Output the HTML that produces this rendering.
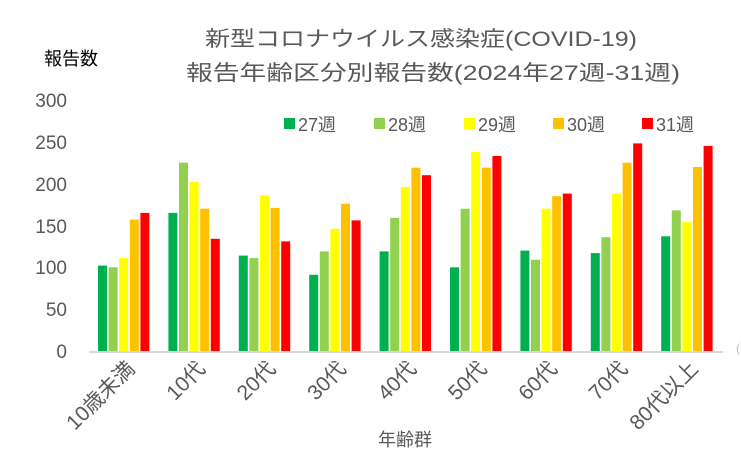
<!DOCTYPE html>
<html><head><meta charset="utf-8"><style>
html,body{margin:0;padding:0;background:#fff;}
svg{display:block;font-family:"Liberation Sans","Noto Sans CJK JP",sans-serif;}
</style></head><body>
<svg width="741" height="475" viewBox="0 0 741 475" xmlns="http://www.w3.org/2000/svg">
<rect width="741" height="475" fill="#fff"/>
<text x="421" y="46" font-size="21" fill="#595959" text-anchor="middle" textLength="432" lengthAdjust="spacingAndGlyphs">新型コロナウイルス感染症(COVID-19)</text>
<text x="433" y="80" font-size="21" fill="#595959" text-anchor="middle" textLength="494" lengthAdjust="spacingAndGlyphs">報告年齢区分別報告数(2024年27週-31週)</text>
<text x="44" y="65" font-size="18" fill="#000">報告数</text>
<g font-size="19" fill="#595959" text-anchor="end">
<text x="67" y="107">300</text>
<text x="67" y="149">250</text>
<text x="67" y="191">200</text>
<text x="67" y="233">150</text>
<text x="67" y="274">100</text>
<text x="67" y="316">50</text>
<text x="67" y="358">0</text>
</g>
<g fill="#00b050">
<rect x="98" y="265.6" width="9" height="85.4"/>
<rect x="168.4" y="212.9" width="9" height="138.1"/>
<rect x="238.8" y="255.6" width="9" height="95.4"/>
<rect x="309.2" y="274.8" width="9" height="76.2"/>
<rect x="379.6" y="251.4" width="9" height="99.6"/>
<rect x="450" y="267.3" width="9" height="83.7"/>
<rect x="520.4" y="250.6" width="9" height="100.4"/>
<rect x="590.8" y="253.1" width="9" height="97.9"/>
<rect x="661.2" y="236.3" width="9" height="114.7"/>
</g>
<g fill="#92d050">
<rect x="108.6" y="267.3" width="9" height="83.7"/>
<rect x="179" y="162.7" width="9" height="188.3"/>
<rect x="249.4" y="258.1" width="9" height="92.9"/>
<rect x="319.8" y="251.4" width="9" height="99.6"/>
<rect x="390.2" y="217.9" width="9" height="133.1"/>
<rect x="460.6" y="208.7" width="9" height="142.3"/>
<rect x="531" y="259.8" width="9" height="91.2"/>
<rect x="601.4" y="237.2" width="9" height="113.8"/>
<rect x="671.8" y="210.4" width="9" height="140.6"/>
</g>
<g fill="#ffff00">
<rect x="119.2" y="258.1" width="9" height="92.9"/>
<rect x="189.6" y="181.9" width="9" height="169.1"/>
<rect x="260" y="195.3" width="9" height="155.7"/>
<rect x="330.4" y="228.8" width="9" height="122.2"/>
<rect x="400.8" y="186.9" width="9" height="164.1"/>
<rect x="471.2" y="151.8" width="9" height="199.2"/>
<rect x="541.6" y="208.7" width="9" height="142.3"/>
<rect x="612" y="193.6" width="9" height="157.4"/>
<rect x="682.4" y="222.1" width="9" height="128.9"/>
</g>
<g fill="#ffc000">
<rect x="129.8" y="219.6" width="9" height="131.4"/>
<rect x="200.2" y="208.7" width="9" height="142.3"/>
<rect x="270.6" y="207.9" width="9" height="143.1"/>
<rect x="341" y="203.7" width="9" height="147.3"/>
<rect x="411.4" y="167.7" width="9" height="183.3"/>
<rect x="481.8" y="167.7" width="9" height="183.3"/>
<rect x="552.2" y="196.2" width="9" height="154.8"/>
<rect x="622.6" y="162.7" width="9" height="188.3"/>
<rect x="693" y="166.9" width="9" height="184.1"/>
</g>
<g fill="#ff0000">
<rect x="140.4" y="212.9" width="9" height="138.1"/>
<rect x="210.8" y="238.8" width="9" height="112.2"/>
<rect x="281.2" y="241.4" width="9" height="109.6"/>
<rect x="351.6" y="220.4" width="9" height="130.6"/>
<rect x="422" y="175.2" width="9" height="175.8"/>
<rect x="492.4" y="156" width="9" height="195"/>
<rect x="562.8" y="193.6" width="9" height="157.4"/>
<rect x="633.2" y="143.4" width="9" height="207.6"/>
<rect x="703.6" y="145.9" width="9" height="205.1"/>
</g>
<line x1="89" y1="352" x2="723" y2="352" stroke="#d9d9d9" stroke-width="2"/>
<g font-size="18" fill="#595959">
<rect x="284" y="118" width="11" height="11" fill="#00b050"/><text x="298" y="131">27週</text>
<rect x="374" y="118" width="11" height="11" fill="#92d050"/><text x="388" y="131">28週</text>
<rect x="464" y="118" width="11" height="11" fill="#ffff00"/><text x="478" y="131">29週</text>
<rect x="553" y="118" width="11" height="11" fill="#ffc000"/><text x="567" y="131">30週</text>
<rect x="642" y="118" width="11" height="11" fill="#ff0000"/><text x="656" y="131">31週</text>
</g>
<g font-size="21" fill="#595959" text-anchor="end">
<text x="136" y="370" transform="rotate(-45 136 370)">10歳未満</text>
<text x="206.4" y="370" transform="rotate(-45 206.4 370)">10代</text>
<text x="276.8" y="370" transform="rotate(-45 276.8 370)">20代</text>
<text x="347.2" y="370" transform="rotate(-45 347.2 370)">30代</text>
<text x="417.6" y="370" transform="rotate(-45 417.6 370)">40代</text>
<text x="488" y="370" transform="rotate(-45 488 370)">50代</text>
<text x="558.4" y="370" transform="rotate(-45 558.4 370)">60代</text>
<text x="628.8" y="370" transform="rotate(-45 628.8 370)">70代</text>
<text x="699.2" y="370" transform="rotate(-45 699.2 370)">80代以上</text>
</g>
<text x="405" y="446" font-size="18" fill="#595959" text-anchor="middle">年齢群</text>
<text x="736" y="352" font-size="12" fill="#bfbfbf">(</text>
</svg>
</body></html>
